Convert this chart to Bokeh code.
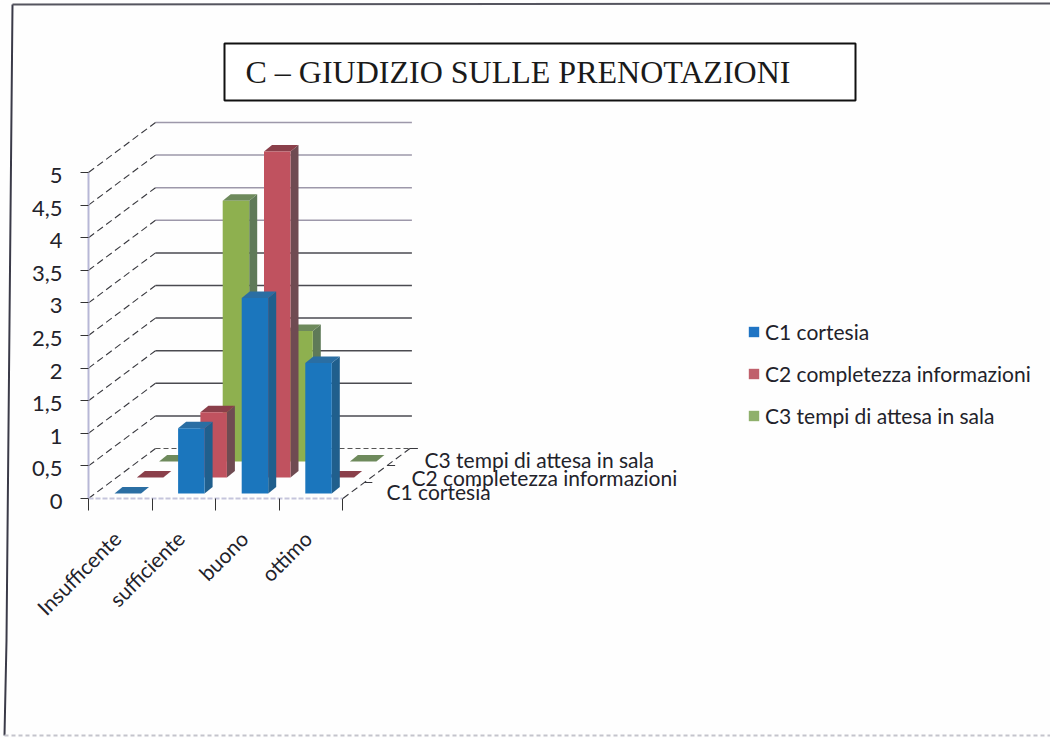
import math
from bokeh.plotting import figure
from bokeh.models import LinearAxis, FixedTicker, Legend, LegendItem, Range1d, ColumnDataSource
from bokeh.core.properties import value
from bokeh.embed import file_html
from bokeh.resources import INLINE

title_text = "C – GIUDIZIO SULLE PRENOTAZIONI"
categories = ["Insufficente", "sufficiente", "buono", "ottimo"]
series_names = ["C1 cortesia", "C2 completezza informazioni", "C3 tempi di attesa in sala"]
c1_values = [0, 1, 3, 2]
c2_values = [0, 1, 5, 0]
c3_values = [0, 4, 2, 0]
y_ticks = [0, 0.5, 1, 1.5, 2, 2.5, 3, 3.5, 4, 4.5, 5]
y_labels = ["0", "0,5", "1", "1,5", "2", "2,5", "3", "3,5", "4", "4,5", "5"]

FACE = ["#1b76bd", "#c0525f", "#8eb04f"]
SIDE = ["#205f8d", "#6f4b52", "#5f7a58"]
TOP = ["#2a6ea3", "#8a3f4a", "#6e8a5c"]
LEG = ["#1f74c4", "#c0606c", "#8fb06c"]
TXT = "#22222a"

W, H = 1050, 738
X0, Y0 = 88.0, 498.0
PX, PY = 63.6, 65.2
def fx(px): return (px - X0) / PX
def fy(py): return (Y0 - py) / PY
dxu = lambda d: d / PX
dyu = lambda d: d / PY

p = figure(width=W, height=H, output_backend="svg", toolbar_location=None,
           x_range=Range1d(fx(0), fx(W)), y_range=Range1d(fy(H), fy(0)),
           x_axis_location=None, y_axis_location=None, min_border=0,
           outline_line_color=None, background_fill_color="#fefefe",
           border_fill_color="#fefefe")
p.grid.visible = False

p.line([fx(12), fx(6), fx(4)], [fy(4), fy(640), fy(735)], line_color="#3a3a48", line_width=2)
p.line([fx(12), fx(1050)], [fy(4), fy(3)], line_color="#55555f", line_width=2)
p.line([fx(4), fx(1050)], [fy(735), fy(735)], line_color="#c4c4cc", line_width=2, line_dash="4 3")

DEPTH_X, DEPTH_Y = 67.0, 50.0
for t in y_ticks:
    col = "#9d98aa" if t >= 3.5 else "#4a4a50"
    xl = dxu(DEPTH_X)
    xr = 4 + dxu(DEPTH_X) + dxu(2)
    yb = t + dyu(DEPTH_Y)
    if t > 0:
        p.line([xl, xr], [yb, yb], line_color=col, line_width=1.5)
    else:
        p.line([xl, xr], [yb, yb], line_color="#555555", line_width=1, line_dash="5 3")
    p.line([0, xl], [t, yb], line_color="#38383e", line_width=1.1, line_dash="7 4")
p.line([4, 4 + dxu(DEPTH_X)], [0, dyu(DEPTH_Y)], line_color="#38383e", line_width=1.1, line_dash="7 4")
for frac in (0.32, 0.66, 1.0):
    bx, by = 4 + dxu(DEPTH_X * frac), dyu(DEPTH_Y * frac)
    p.segment([bx], [by], [bx + dxu(8)], [by], line_color="#38383e", line_width=1)
depth_x = [fx(386), fx(411), fx(424)]
depth_y = [fy(491), fy(477), fy(459)]
p.text(depth_x, depth_y, text=series_names, text_font=value("Lato"), text_font_size="21px",
       text_color=TXT, text_align="left", text_baseline="middle")

STEP_S_X, STEP_S_Y = 22.3, 16.0
BAR_L, BAR_W = 26.0 / PX, 26.5 / PX
SD_X, SD_Y = 8.0, 6.5
all_vals = [c1_values, c2_values, c3_values]
for s in (2, 1, 0):
    vals = all_vals[s]
    lefts = [i + BAR_L + dxu(STEP_S_X * s) for i in range(len(vals))]
    rights = [l + BAR_W for l in lefts]
    base = dyu(5 + STEP_S_Y * s)
    bottoms = [base] * len(vals)
    tops = [base + v for v in vals]
    sx = dxu(SD_X)
    sy = dyu(SD_Y)
    p.patches([[r, r + sx, r + sx, r] for r in rights],
              [[b, b + sy, t + sy, t] for b, t in zip(bottoms, tops)],
              fill_color=SIDE[s], line_color=None)
    p.patches([[l, l + sx, r + sx, r] for l, r in zip(lefts, rights)],
              [[t, t + sy, t + sy, t] for t in tops],
              fill_color=TOP[s], line_color=None)
    p.quad(left=lefts, right=rights, top=tops, bottom=bottoms,
           fill_color=FACE[s], line_color=None)

legend_r = []
for s in range(3):
    legend_r.append(p.quad(left=[-100], right=[-99], top=[-100], bottom=[-101], fill_color=LEG[s], line_color=None))
legend = Legend(items=[LegendItem(label=n, renderers=[r]) for n, r in zip(series_names, legend_r)],
                location=(747, H - 428), orientation="vertical", padding=0, margin=0, spacing=17,
                glyph_width=13, glyph_height=13, label_standoff=5, label_height=23,
                label_text_font="Lato", label_text_font_size="21px", label_text_color=TXT,
                background_fill_alpha=0, border_line_color=None)
p.add_layout(legend, "center")

ax_y = LinearAxis(fixed_location=0, ticker=FixedTicker(ticks=y_ticks), bounds=(0, 5),
                  major_label_overrides={t: "" for t in y_ticks},
                  major_tick_in=0, major_tick_out=8, minor_tick_line_color=None,
                  major_tick_line_color="#333333", axis_line_color="#b7b7d6", axis_line_width=2)
p.add_layout(ax_y, "left")
label_ticks = [t - dyu(3) for t in y_ticks]
ax_y_lab = LinearAxis(fixed_location=0, ticker=FixedTicker(ticks=label_ticks),
                      major_label_overrides=dict(zip(label_ticks, y_labels)),
                      major_tick_line_color=None, minor_tick_line_color=None, axis_line_color=None,
                      major_label_text_font="Lato", major_label_text_font_size="22px",
                      major_label_text_color=TXT, major_label_standoff=20)
p.add_layout(ax_y_lab, "left")
ax_x = LinearAxis(fixed_location=0, ticker=FixedTicker(ticks=[0, 1, 2, 3, 4]), bounds=(0, 4),
                  major_label_overrides={i: "" for i in range(5)},
                  major_tick_in=0, major_tick_out=12, minor_tick_line_color=None,
                  major_tick_line_color="#333333", axis_line_color="#c5c5dc", axis_line_width=2,
                  axis_line_dash="5 2")
p.add_layout(ax_x, "below")
centres = [i + 0.5 - dxu(3.5) for i in range(len(categories))]
ax_lab = LinearAxis(fixed_location=0, ticker=FixedTicker(ticks=centres),
                    major_label_overrides=dict(zip(centres, categories)),
                    major_tick_line_color=None, minor_tick_line_color=None, axis_line_color=None,
                    major_label_orientation=math.pi / 4, major_label_standoff=30,
                    major_label_text_font="Lato", major_label_text_font_size="21px",
                    major_label_text_color=TXT)
p.add_layout(ax_lab, "below")

src_title = ColumnDataSource(dict(l=[fx(224)], r=[fx(855)], t=[fy(43)], b=[fy(100)]))
p.quad(left="l", right="r", top="t", bottom="b", source=src_title, fill_color="#ffffff",
       line_color="#111111", line_width=2)
p.text([fx(245)], [fy(71)], text=[title_text], text_font=value("Liberation Serif"),
       text_font_size="32px", text_color="#1a1a1a", text_align="left", text_baseline="middle")

open("out.html", "w").write(file_html(p, INLINE))
